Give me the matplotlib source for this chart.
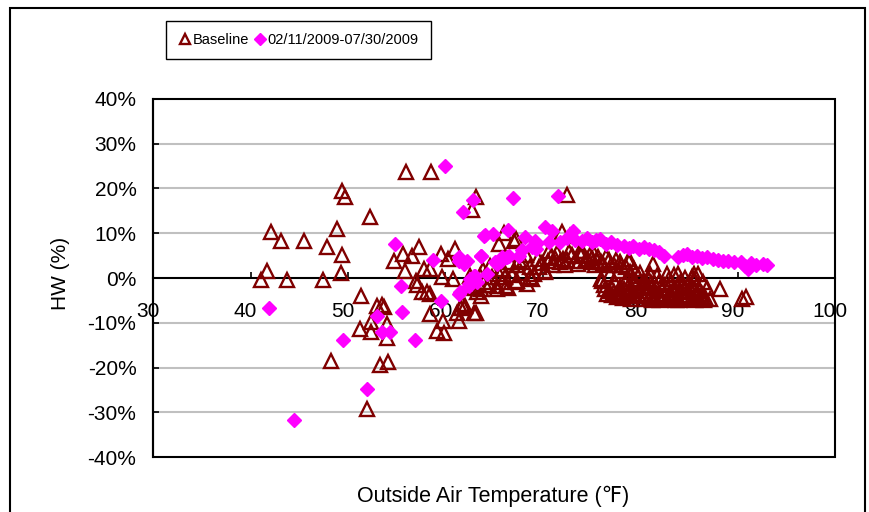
import numpy as np
import matplotlib.pyplot as plt
from matplotlib import font_manager
from matplotlib.patches import Rectangle
from matplotlib.transforms import ScaledTranslation

plt.rcParams['font.family'] = ['Liberation Sans', 'DejaVu Sans']

# Baseline: (outside air temp F, HW %)
baseline_pts = [
    (41.1, -0.4), (41.7, 1.6), (42.1, 10.2), (43.1, 8.3), (43.7, -0.4), (45.5, 8.3),
    (47.4, -0.4), (47.8, 7.0), (48.9, 11.0), (49.4, 19.5), (49.7, 18.0), (49.4, 5.1),
    (49.3, 1.1), (48.3, -18.5), (51.3, -4.1), (52.3, 13.7), (51.2, -11.4), (52.4, -12.0),
    (52.4, -9.9), (53.0, -6.2), (53.5, -6.0), (53.7, -6.4), (54.0, -10.3), (54.0, -13.5),
    (53.3, -19.5), (54.1, -18.7), (51.9, -29.2), (54.7, 3.9), (55.6, 5.4), (56.6, 5.0),
    (57.3, 6.9), (55.8, 1.6), (57.0, -0.6), (57.1, -1.5), (57.6, -3.2), (58.4, -3.6),
    (57.8, 2.0), (58.4, 2.0), (59.5, 5.4), (60.3, 4.3), (61.0, 6.5), (59.6, 0.2),
    (60.8, -0.2), (62.5, 0.5), (63.6, -2.5), (62.0, -6.2), (61.6, -6.6), (63.1, -7.7),
    (61.4, -9.5), (59.8, -9.5), (59.1, -11.8), (59.9, -12.2), (58.4, -8.1), (61.2, -7.7),
    (62.9, -7.7), (62.7, 15.1), (63.1, 18.0), (62.6, -1.7), (62.9, -2.3), (63.6, -4.0),
    (58.1, -3.2), (63.2, -3.2), (61.7, -5.8), (65.5, 7.6), (65.3, -2.4), (66.1, 0.2),
    (56.0, 23.6), (58.5, 23.6),
    (67.0, 8.3), (67.2, 8.7), (66.0, 10.0), (72.0, 10.2), (65.5, 0.9), (65.3, -1.7),
    (67.3, -0.6), (68.7, 0.2), (70.2, 1.6), (67.3, 2.8), (68.7, 2.4), (70.2, 1.3),
    (68.9, -0.2), (67.2, -1.0), (66.4, -2.2), (68.0, 3.5), (69.5, 4.2), (70.5, 3.8),
    (71.2, 4.5), (72.5, 18.5), (72.8, 9.4), (71.8, 3.5), (72.5, 4.0), (73.0, 5.2),
    (73.8, 6.1), (74.3, 3.8), (75.0, 4.4), (75.6, 3.9), (76.0, 3.5), (76.5, 4.8),
    (77.0, 3.0), (77.5, 4.0), (78.0, 2.8), (78.8, 4.3), (76.0, -0.2), (77.3, -3.2),
    (77.0, -2.0), (77.8, -3.6), (78.3, -2.5), (78.8, -3.2), (79.2, -1.0), (79.5, -3.8),
    (79.8, 0.5), (80.2, -2.0), (80.5, -3.0), (81.3, 3.1),
    (74.0, 6.1), (75.2, 5.4), (76.1, -0.6), (76.4, -2.5), (76.6, -3.6), (78.0, -2.5),
    (78.8, 3.5), (78.9, 1.3), (79.5, -1.0), (78.6, -3.6), (80.7, -1.7), (81.0, 0.9),
    (81.0, -4.0), (82.7, 0.9), (83.9, 0.9), (84.3, -1.7), (84.8, -4.0), (85.5, 0.9),
    (86.3, -4.7), (87.2, -4.7), (88.2, -2.5), (90.4, -4.7), (90.8, -4.3),
    (76.3, -1.5), (76.8, -2.8), (77.1, -3.9), (77.4, -1.2), (77.6, -4.2), (77.9, -2.0),
    (78.1, -3.9), (78.4, -1.0), (78.6, -4.1), (78.9, -2.6), (79.1, -0.3), (79.3, -3.5),
    (79.6, -1.8), (79.9, -4.0), (80.1, -2.8), (80.3, -0.8), (80.6, -3.6), (80.8, -2.2),
    (81.0, -4.3), (81.1, -1.2), (81.3, -3.0), (81.5, -4.5), (81.6, -2.0), (81.8, -3.6),
    (81.9, -0.9), (82.1, -4.2), (82.2, -2.7), (82.4, -1.6), (82.5, -3.8), (82.7, -4.6),
    (82.8, -2.3), (83.0, -3.3), (83.1, -1.0), (83.3, -4.1), (83.4, -2.6), (83.6, -3.6),
    (83.8, -1.8), (83.9, -4.5), (84.1, -2.9), (84.2, -0.6), (84.4, -3.9), (84.5, -2.2),
    (84.7, -4.3), (84.9, -1.4), (85.0, -3.2), (85.2, -4.6), (85.4, -2.5), (85.5, -0.3),
    (85.7, -3.8), (85.8, -1.6), (86.0, -4.4), (86.1, -2.8), (86.3, -3.5), (86.4, -1.0),
    (86.6, -4.2), (86.8, -2.2), (85.9, 0.9), (85.3, 0.2), (84.6, -0.1), (83.5, 0.6),
    (82.9, -0.2), (81.7, 0.4), (80.9, -0.5), (80.0, 1.2), (79.4, 2.1), (77.8, 1.5),
    (76.9, 0.8), (80.4, -4.6), (79.0, -4.6), (78.2, -4.4), (82.0, -5.0), (83.7, -5.0),
    (85.6, -5.0), (86.5, -5.0), (81.2, -5.0), (84.0, -4.9),
    (70.8, 4.8), (71.4, 5.5), (72.1, 4.2), (72.7, 5.8), (73.3, 3.9), (73.9, 4.9),
    (74.5, 4.3), (75.1, 3.6), (75.7, 4.6), (76.2, 3.2), (76.8, 4.1), (77.3, 2.9),
    (77.9, 3.5), (78.5, 2.5), (73.6, 3.2), (74.8, 5.2), (75.4, 2.8), (71.0, 3.0),
    (72.3, 2.8),
    (63.5, 0.4), (64.0, -0.8), (64.5, -1.5), (64.8, 0.2), (65.8, -0.9), (66.2, -1.8),
    (66.8, 0.6), (67.8, 1.1), (68.4, -1.4), (69.1, 0.9), (69.6, 2.5), (63.9, 1.8),
    (64.6, 2.6), (65.9, 2.1), (66.6, 3.6), (67.6, 4.1), (68.3, 5.2), (69.9, 3.3),
    (70.6, 6.0),
]

# 02/11/2009-07/30/2009: (outside air temp F, HW %)
period_pts = [
    (41.9, -6.8), (44.5, -31.7), (49.5, -13.8), (51.9, -24.8), (53.0, -8.4), (53.5, -12.0),
    (54.3, -12.0), (54.8, 7.6), (55.4, -1.7), (55.5, -7.5), (56.9, -13.8), (58.7, 4.1),
    (59.5, -5.1), (60.0, 25.1), (61.4, 4.6), (61.9, 3.1), (61.8, 14.8), (62.8, 17.5),
    (62.5, -0.2), (62.7, -0.2), (62.4, -1.8), (61.4, -3.6), (62.2, 3.8), (63.0, 0.5),
    (63.2, -1.0), (63.7, 5.0), (64.3, 0.9), (64.0, 9.3), (64.9, 9.8), (65.3, 3.1),
    (65.1, 3.5), (65.8, 4.6), (66.5, 5.0), (67.5, 5.0), (66.4, 10.8), (66.9, 17.8),
    (68.2, 9.1), (69.0, 7.2), (69.3, 6.5), (69.2, 8.3), (68.9, 6.9), (70.2, 11.3),
    (70.6, 8.0), (70.9, 10.6), (71.6, 18.3), (71.8, 8.0), (72.5, 9.0), (73.1, 10.6),
    (73.3, 8.5), (74.0, 8.2), (74.5, 9.0), (75.0, 8.0), (75.5, 8.5), (75.9, 8.7),
    (76.5, 7.6), (77.0, 8.0), (77.6, 7.4), (78.3, 7.2), (78.8, 6.8), (79.3, 7.2),
    (79.9, 6.5), (80.4, 6.9), (80.9, 6.4), (81.4, 6.3), (81.9, 5.8), (82.4, 5.0),
    (83.9, 4.6), (84.4, 5.2), (84.8, 5.4), (85.3, 4.8), (85.8, 5.0), (86.3, 4.4),
    (86.8, 4.6), (87.5, 4.2), (88.0, 4.0), (88.5, 3.7), (89.0, 3.9), (89.6, 3.6),
    (90.3, 3.5), (90.7, 2.6), (91.0, 2.0), (91.4, 3.3), (91.9, 2.9), (92.6, 3.1),
    (93.0, 3.0), (62.4, -1.3), (62.9, 0.5), (61.4, 3.9), (63.6, 5.0), (61.5, -3.2),
    (64.1, 9.5), (65.3, 3.5), (65.7, 3.9), (69.3, 7.7), (67.9, 6.2), (66.3, 4.6),
]

x_ticks = [30, 40, 50, 60, 70, 80, 90, 100]
y_ticks = [-40, -30, -20, -10, 0, 10, 20, 30, 40]

base = np.array(baseline_pts)
post = np.array(period_pts)

# legend text in the original is a narrow face
installed = {f.name for f in font_manager.fontManager.ttflist}
if 'Liberation Sans Narrow' in installed:
    legend_font = {'family': 'Liberation Sans Narrow', 'size': 12}
else:
    legend_font = {'family': 'Liberation Sans', 'size': 10.5}

fig = plt.figure(figsize=(8.7, 5.12), dpi=100)
ax = fig.add_axes([0.176, 0.107, 0.784, 0.700])

ax.set_xlim(30, 100)
ax.set_ylim(-40, 40)

# gray horizontal gridlines
for v in y_ticks:
    if v not in (-40, 0, 40):
        ax.axhline(v, color='#c0c0c0', lw=1.5, zorder=0)

ax.plot(base[:, 0], base[:, 1], linestyle='none', marker='^', ms=10,
        mfc='none', mec='#800000', mew=1.7, label='Baseline', zorder=3)
ax.plot(post[:, 0], post[:, 1], linestyle='none', marker='D', ms=7.5,
        mfc='#ff00ff', mec='#ff00ff', label='02/11/2009-07/30/2009', zorder=4)

# x axis sits at 0%, box closed by a rectangle
ax.spines['bottom'].set_position(('data', 0))
ax.spines['bottom'].set_linewidth(1.5)
ax.spines['top'].set_visible(False)
ax.spines['right'].set_visible(False)
ax.spines['left'].set_linewidth(1.5)
ax.add_patch(Rectangle((0, 0), 1, 1, transform=ax.transAxes, fill=False,
                       ec='black', lw=1.5, zorder=5, clip_on=False))

ax.set_xticks(x_ticks)
ax.set_xticklabels([str(t) for t in x_ticks])
ax.set_yticks(y_ticks)
ax.set_yticklabels([f"{t}%" for t in y_ticks])
ax.tick_params(axis='x', direction='in', length=4, width=1.2, labelsize=15, pad=17)
ax.tick_params(axis='y', direction='in', length=4, width=1.2, labelsize=15, pad=12)
shift = ScaledTranslation(-5 / 100, 0, fig.dpi_scale_trans)
for lbl in ax.get_xticklabels():
    lbl.set_transform(lbl.get_transform() + shift)

fig.text(0.069, 0.465, 'HW (%)', rotation=90, ha='center', va='center', fontsize=15)
fig.text(0.567, 0.031, 'Outside Air Temperature (℉)', ha='center', va='center', fontsize=15.5)

leg = fig.legend(loc='center', bbox_to_anchor=(0.343, 0.922), ncol=2, prop=legend_font,
                 frameon=True, fancybox=False, framealpha=1, edgecolor='black',
                 handletextpad=0.05, columnspacing=0.3, handlelength=0.9,
                 borderpad=0.85, borderaxespad=0, markerscale=0.75)
leg.get_frame().set_linewidth(1.0)

# outer chart border
fig.patches.append(Rectangle((0.0115, -0.02), 0.983, 1.004, transform=fig.transFigure,
                             fill=False, ec='black', lw=1.5))

fig.savefig('out.png', dpi=100)
plt.close()
